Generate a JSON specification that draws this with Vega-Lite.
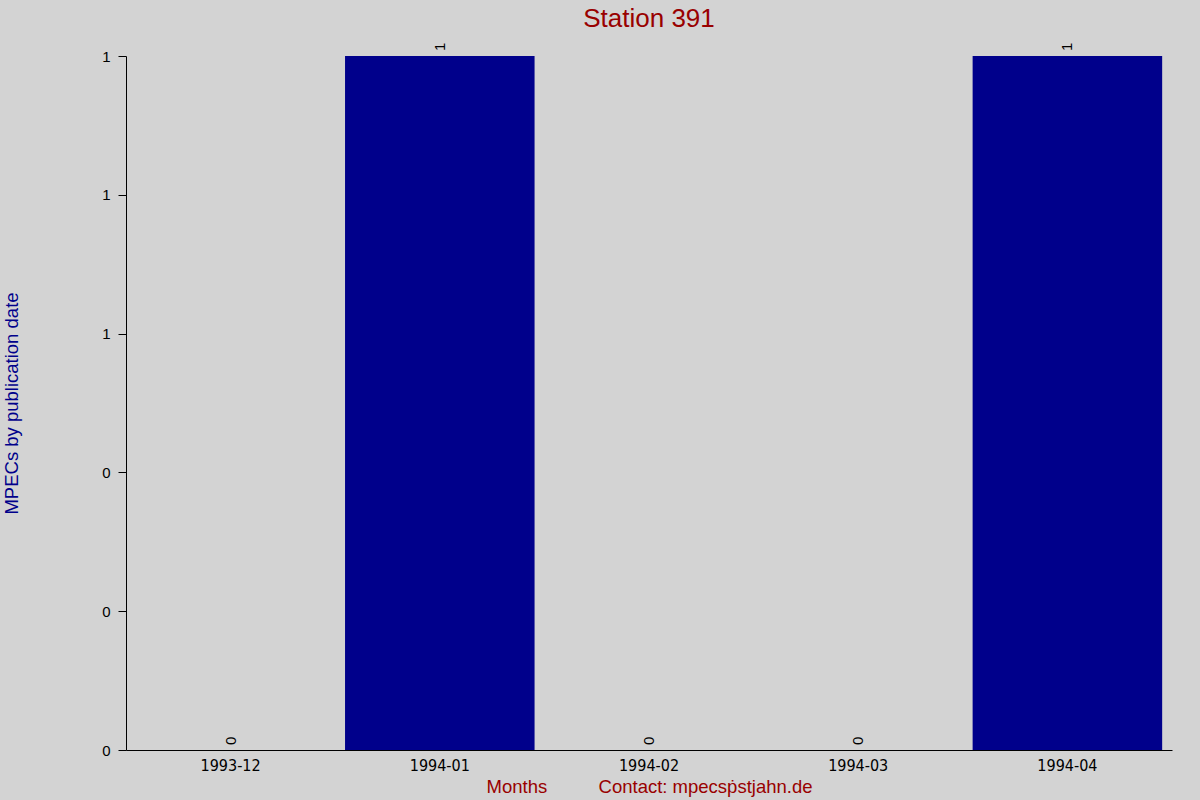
{
  "$schema": "https://vega.github.io/schema/vega-lite/v6.json",
  "autosize": {"type": "none"},
  "width": 1046,
  "height": 694,
  "padding": {"left": 126, "top": 56, "right": 28, "bottom": 50},
  "background": "#d3d3d3",
  "title": {
    "text": "Station 391",
    "color": "#990000",
    "font": "Liberation Sans",
    "fontSize": 26,
    "fontWeight": "normal",
    "anchor": "middle",
    "frame": "group",
    "orient": "top",
    "offset": 13,
    "dy": 23,
    "baseline": "alphabetic"
  },
  "config": {
    "view": {"stroke": null},
    "axis": {"grid": false, "domainColor": "#000000", "tickColor": "#000000", "labelColor": "#000000"}
  },
  "data": {
    "values": [
      {"month": "1993-12", "count": 0},
      {"month": "1994-01", "count": 1},
      {"month": "1994-02", "count": 0},
      {"month": "1994-03", "count": 0},
      {"month": "1994-04", "count": 1}
    ]
  },
  "encoding": {
    "x": {
      "field": "month",
      "type": "ordinal",
      "sort": null,
      "scale": {"paddingInner": 0.094, "paddingOuter": 0.047},
      "axis": {
        "title": "Months\u00a0\u00a0\u00a0\u00a0\u00a0\u00a0\u00a0\u00a0\u00a0\u00a0Contact: mpecs\u1e57stjahn.de",
        "titleColor": "#990000",
        "titleFont": "Liberation Sans",
        "titleFontSize": 18.5,
        "titleFontWeight": "normal",
        "titleX": 523,
        "titleY": 36,
        "titleBaseline": "middle",
        "labelAngle": 0,
        "labelFont": "'Liberation Sans Narrow', 'DejaVu Sans Condensed', 'Liberation Sans', sans-serif",
        "labelFontSize": 16,
        "labelPadding": 7,
        "ticks": false,
        "domainWidth": 1
      }
    },
    "y": {
      "field": "count",
      "type": "quantitative",
      "scale": {"domain": [0, 1], "nice": false},
      "axis": {
        "values": [0, 0.2, 0.4, 0.6, 0.8, 1],
        "labelExpr": "round(datum.value)",
        "title": "MPECs by publication date",
        "titleColor": "#00008b",
        "titleFont": "Liberation Sans",
        "titleFontSize": 18.5,
        "titleFontWeight": "normal",
        "titleAngle": 270,
        "titleX": -115,
        "titleY": 347,
        "titleAlign": "center",
        "titleBaseline": "middle",
        "labelFont": "Liberation Sans",
        "labelFontSize": 15,
        "labelPadding": 8,
        "tickSize": 8
      }
    }
  },
  "layer": [
    {"mark": {"type": "bar", "color": "#00008b"}},
    {
      "mark": {
        "type": "text",
        "angle": 270,
        "align": "left",
        "baseline": "middle",
        "dx": 5,
        "font": "Liberation Sans",
        "fontSize": 15,
        "color": "#000000"
      },
      "encoding": {"text": {"field": "count", "type": "quantitative"}}
    }
  ]
}
